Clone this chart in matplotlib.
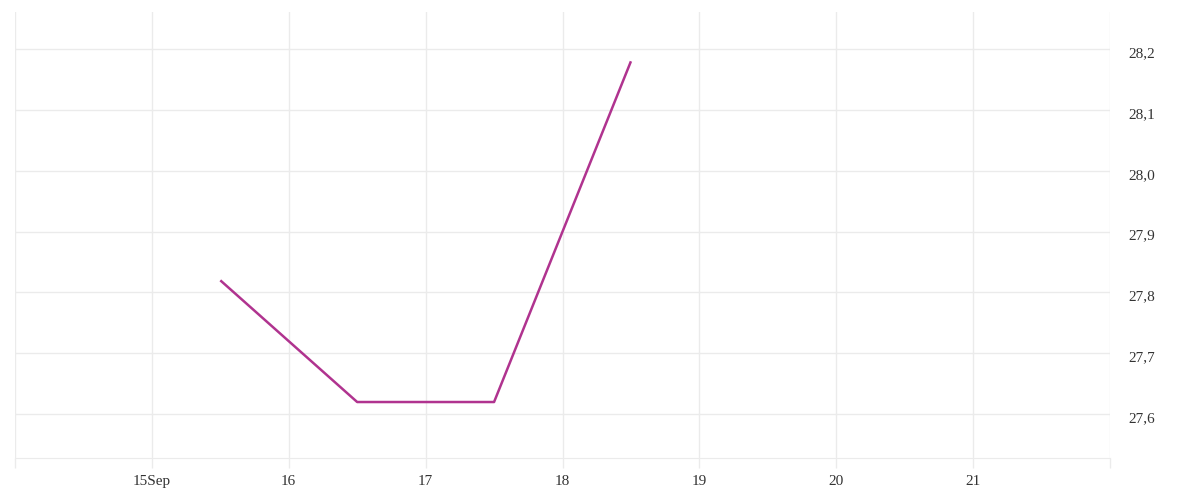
import numpy as np
import pandas as pd
import matplotlib
matplotlib.use("Agg")
import matplotlib.pyplot as plt
import matplotlib.dates as mdates
from matplotlib.ticker import FuncFormatter, FixedLocator
from matplotlib.transforms import ScaledTranslation

# data
times = ["2023-09-15 12:00", "2023-09-16 12:00", "2023-09-17 12:00", "2023-09-18 12:00"]
values = [27.82, 27.62, 27.62, 28.18]
tick_days = ["2023-09-14", "2023-09-15", "2023-09-16", "2023-09-17", "2023-09-18",
             "2023-09-19", "2023-09-20", "2023-09-21", "2023-09-22"]
y_ticks = [27.6, 27.7, 27.8, 27.9, 28.0, 28.1, 28.2]

grid_col = "#ebebeb"
line_col = "#b0338f"
text_col = "#333333"

plt.rcParams['font.family'] = ['Liberation Serif', 'DejaVu Serif']

fig = plt.figure(figsize=(12, 5), dpi=100)
ax = fig.add_axes([15 / 1200, 42 / 500, 1095 / 1200, 446 / 500])

x = pd.to_datetime(times)
ax.plot(x, values, color=line_col, lw=1.8, solid_capstyle="butt")

days = pd.to_datetime(tick_days)
ax.set_xlim(days[0], days[-1])
ax.set_ylim(27.528, 28.261)

ax.xaxis.set_major_locator(FixedLocator(mdates.date2num(days)))

def fmt_x(v, pos):
    d = mdates.num2date(v)
    if pos == 0 or pos == len(days) - 1:
        return ""
    if pos == 1:
        return d.strftime("%d%b")
    return d.strftime("%d").lstrip("0")

ax.xaxis.set_major_formatter(FuncFormatter(fmt_x))
ax.yaxis.set_major_locator(FixedLocator(y_ticks))
ax.yaxis.set_major_formatter(FuncFormatter(lambda v, p: f"{v:.1f}".replace(".", ",")))
ax.yaxis.tick_right()

ax.grid(True, color=grid_col, lw=1)
ax.set_axisbelow(True)
for s in ["top", "left", "right"]:
    ax.spines[s].set_visible(False)
ax.spines["bottom"].set_color(grid_col)

ax.tick_params(axis="x", length=7, width=1, color=grid_col, labelsize=11,
               labelcolor=text_col, pad=5)
ax.tick_params(axis="y", length=0, labelsize=11, labelcolor=text_col, pad=13)
for lbl in ax.get_yticklabels():
    lbl.set_transform(lbl.get_transform() + ScaledTranslation(0, -3 / 100, fig.dpi_scale_trans))

fig.savefig("out.png", dpi=100)
